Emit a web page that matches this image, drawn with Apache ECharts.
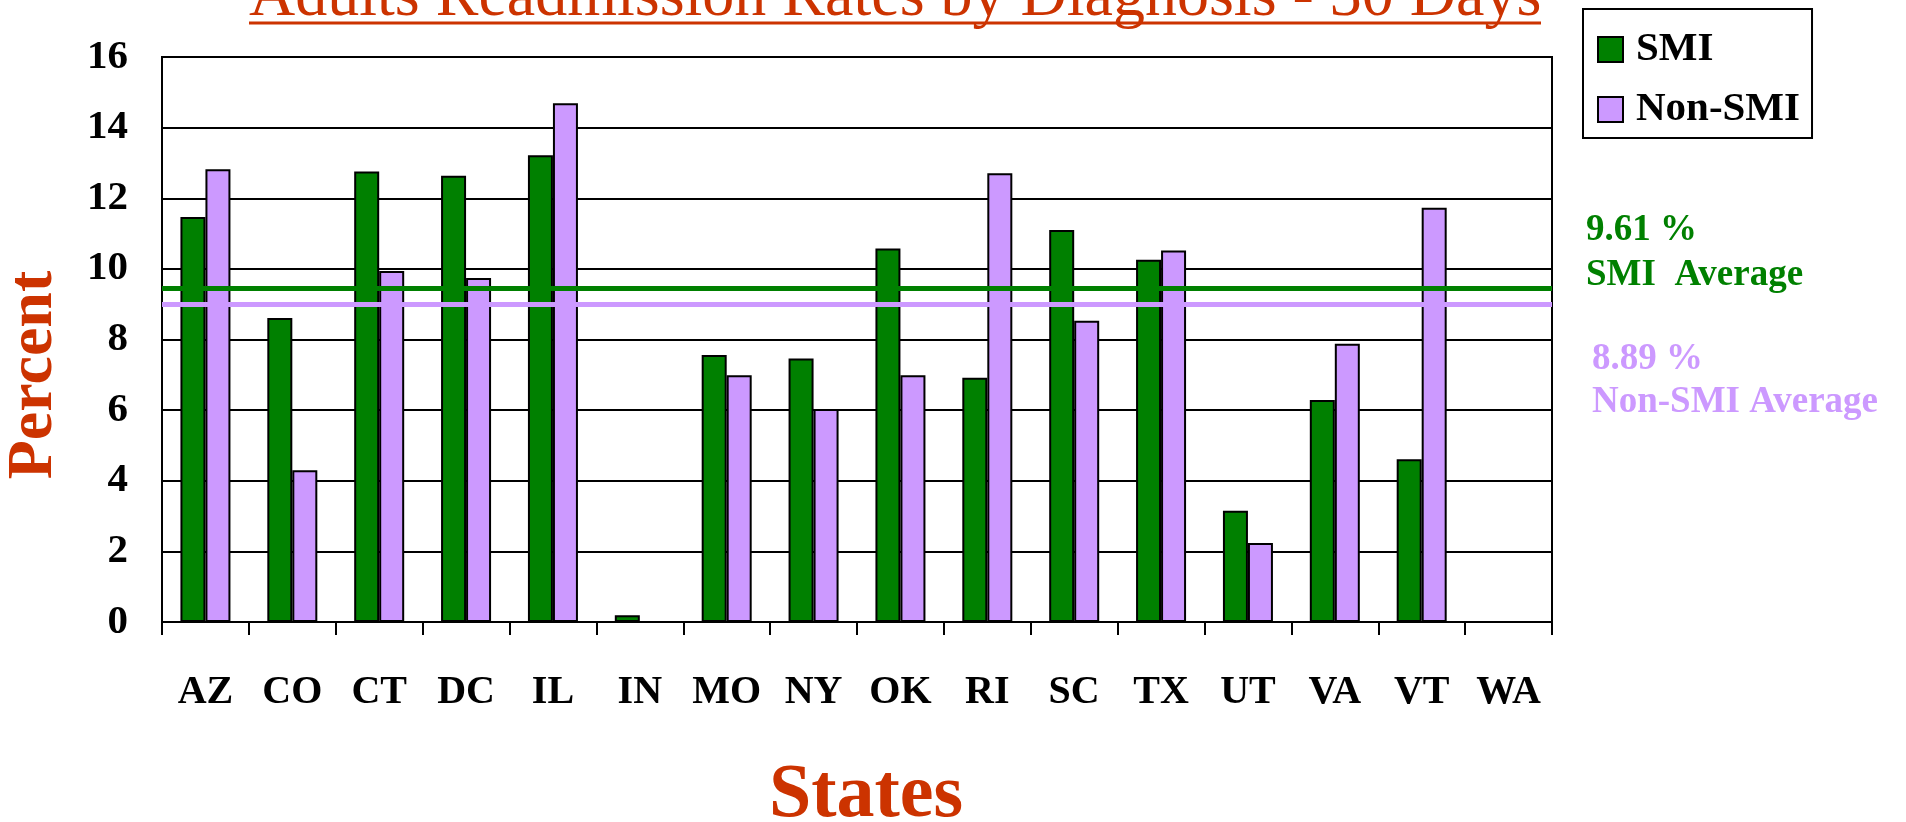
<!DOCTYPE html>
<html>
<head>
<meta charset="utf-8">
<title>Adults Readmission Rates by Diagnosis - 30 Days</title>
<script src="https://cdn.jsdelivr.net/npm/echarts@6/dist/echarts.min.js"></script>
<style>
  html, body { margin: 0; padding: 0; background: #fff; }
  #main { width: 1906px; height: 822px; }
</style>
</head>
<body>
<div id="main"></div>
<script>
// 数据
const states = ['AZ', 'CO', 'CT', 'DC', 'IL', 'IN', 'MO', 'NY', 'OK', 'RI', 'SC', 'TX', 'UT', 'VA', 'VT', 'WA']
const smi = [11.47, 8.61, 12.76, 12.64, 13.22, 0.19, 7.56, 7.46, 10.58, 6.92, 11.10, 10.26, 3.15, 6.29, 4.61, null]
const nonSmi = [12.82, 4.30, 9.94, 9.74, 14.69, null, 6.99, 6.03, 6.99, 12.71, 8.53, 10.52, 2.24, 7.88, 11.73, null]
const yTicks = [0, 2, 4, 6, 8, 10, 12, 14, 16]
// 平均线（图上画的位置）和文字
const smiAvgLine = 9.45
const nonSmiAvgLine = 8.99
const smiAvgText = ['9.61 %', 'SMI  Average']
const nonSmiAvgText = ['8.89 %', 'Non-SMI Average']

const SERIF = '"Liberation Serif", "DejaVu Serif", serif'
const GREEN = '#008000'
const PURPLE = '#cc99ff'
const RED = '#cc3300'

const chart = echarts.init(document.getElementById('main'), null, { renderer: 'canvas' })

const option = {
  backgroundColor: '#fff',
  animation: false,
  grid: {
    left: 162,
    right: 354,
    top: 57,
    bottom: 200,
    show: true,
    borderColor: '#000',
    borderWidth: 2
  },
  legend: {
    orient: 'vertical',
    left: 1583,
    top: 9,
    padding: [20, 12, 8, 14],
    itemGap: 19,
    itemWidth: 25,
    itemHeight: 25,
    icon: 'rect',
    borderColor: '#000',
    borderWidth: 2,
    textStyle: {
      fontFamily: SERIF,
      fontWeight: 'bold',
      fontSize: 41,
      lineHeight: 40,
      color: '#000',
      padding: [0, 0, 0, 8]
    },
    data: ['SMI', 'Non-SMI']
  },
  xAxis: {
    type: 'category',
    data: states,
    boundaryGap: true,
    axisLine: { lineStyle: { color: '#000', width: 2 } },
    axisTick: { show: true, interval: 0, length: 13, inside: false, lineStyle: { color: '#000', width: 2 } },
    axisLabel: {
      interval: 0,
      margin: 51,
      fontFamily: SERIF,
      fontWeight: 'bold',
      fontSize: 40,
      color: '#000'
    },
    splitLine: { show: false }
  },
  yAxis: {
    type: 'value',
    min: yTicks[0],
    max: yTicks[yTicks.length - 1],
    interval: 2,
    axisLine: { show: true, lineStyle: { color: '#000', width: 2 } },
    axisTick: { show: false },
    axisLabel: {
      margin: 34,
      fontFamily: SERIF,
      fontWeight: 'bold',
      fontSize: 41,
      color: '#000'
    },
    splitLine: { show: true, lineStyle: { color: '#000', width: 2 } }
  },
  series: [
    {
      name: 'SMI',
      type: 'bar',
      data: smi,
      barWidth: 25,
      barGap: '0%',
      itemStyle: { color: GREEN, borderColor: '#000', borderWidth: 2 },
      markLine: {
        silent: true,
        symbol: 'none',
        label: { show: false },
        lineStyle: { color: GREEN, width: 5, type: 'solid' },
        data: [{ yAxis: smiAvgLine }]
      }
    },
    {
      name: 'Non-SMI',
      type: 'bar',
      data: nonSmi,
      barWidth: 25,
      barGap: '0%',
      itemStyle: { color: PURPLE, borderColor: '#000', borderWidth: 2 },
      markLine: {
        silent: true,
        symbol: 'none',
        label: { show: false },
        lineStyle: { color: PURPLE, width: 5, type: 'solid' },
        data: [{ yAxis: nonSmiAvgLine }]
      }
    }
  ],
  graphic: [
    // 标题（上面被截掉一截）+ 下划线
    {
      type: 'text',
      left: 249,
      top: -34,
      style: {
        text: 'Adults Readmission Rates by Diagnosis - 30 Days',
        font: '64px ' + SERIF,
        fill: RED
      }
    },
    {
      type: 'line',
      shape: { x1: 249, y1: 23, x2: 1541, y2: 23 },
      style: { stroke: RED, lineWidth: 3 }
    },
    // Y 轴名称
    {
      type: 'text',
      x: 34,
      y: 375,
      rotation: Math.PI / 2,
      style: {
        text: 'Percent',
        font: 'bold 64px ' + SERIF,
        fill: RED,
        align: 'center',
        verticalAlign: 'middle'
      }
    },
    // X 轴名称
    {
      type: 'text',
      x: 866,
      y: 796,
      style: {
        text: 'States',
        font: 'bold 76px ' + SERIF,
        fill: RED,
        align: 'center',
        verticalAlign: 'middle'
      }
    },
    // 平均值文字
    {
      type: 'text', x: 1586, y: 230,
      style: { text: smiAvgText[0], font: 'bold 37px ' + SERIF, fill: GREEN, verticalAlign: 'middle' }
    },
    {
      type: 'text', x: 1586, y: 275,
      style: { text: smiAvgText[1], font: 'bold 37px ' + SERIF, fill: GREEN, verticalAlign: 'middle' }
    },
    {
      type: 'text', x: 1592, y: 359,
      style: { text: nonSmiAvgText[0], font: 'bold 37px ' + SERIF, fill: PURPLE, verticalAlign: 'middle' }
    },
    {
      type: 'text', x: 1592, y: 402,
      style: { text: nonSmiAvgText[1], font: 'bold 37px ' + SERIF, fill: PURPLE, verticalAlign: 'middle' }
    }
  ]
}

chart.setOption(option)
</script>
</body>
</html>
